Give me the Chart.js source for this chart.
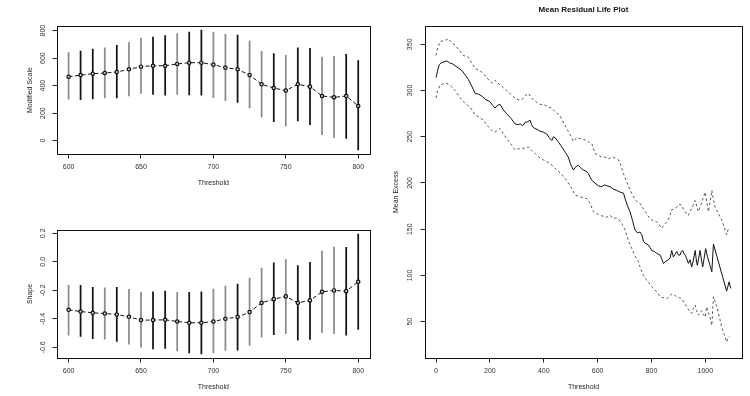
<!DOCTYPE html>
<html>
<head>
<meta charset="utf-8">
<script src="https://cdn.jsdelivr.net/npm/chart.js@4.4.1/dist/chart.umd.min.js"></script>
<style>
  body { margin: 0; background: #fff; width: 750px; height: 396px; position: relative; overflow: hidden; }
  canvas { position: absolute; }
</style>
</head>
<body>
<canvas id="chart-scale" width="375" height="198" style="left:0;top:0"></canvas>
<canvas id="chart-shape" width="375" height="198" style="left:0;top:198px"></canvas>
<canvas id="chart-mrl" width="375" height="396" style="left:375px;top:0"></canvas>
<script>
// threshold grid used by both left panels
const thresholds = [600, 608.3, 616.7, 625, 633.3, 641.7, 650, 658.3, 666.7, 675, 683.3, 691.7, 700,
    708.3, 716.7, 725, 733.3, 741.7, 750, 758.3, 766.7, 775, 783.3, 791.7, 800];
const thresholdTicks = [600, 650, 700, 750, 800];

// modified scale: estimate + interval
const scaleEst = [465, 477, 487, 492, 499, 519, 538, 545, 545, 558, 567, 567, 553, 531, 519, 477, 410, 383, 364, 410, 393, 325, 315, 325, 252];
const scaleHi = [640, 652, 667, 676, 693, 713, 747, 754, 764, 778, 790, 805, 790, 773, 768, 725, 650, 633, 621, 676, 672, 608, 613, 628, 582];
const scaleLo = [301, 298, 303, 310, 310, 325, 344, 337, 330, 337, 332, 330, 313, 291, 279, 238, 170, 138, 107, 143, 116, 44, 22, 17, -68];
const scaleTicks = [0, 200, 400, 600, 800];

// shape: estimate + interval
const shapeEst = [-0.337, -0.349, -0.358, -0.363, -0.370, -0.386, -0.409, -0.409, -0.407, -0.419, -0.428, -0.428, -0.419,
    -0.400, -0.388, -0.353, -0.288, -0.262, -0.243, -0.288, -0.271, -0.211, -0.201, -0.206, -0.140];
const shapeHi = [-0.166, -0.166, -0.180, -0.182, -0.180, -0.194, -0.215, -0.211, -0.206, -0.215, -0.215, -0.211, -0.192,
    -0.171, -0.157, -0.115, -0.044, -0.007, 0.016, -0.026, 0.000, 0.077, 0.103, 0.101, 0.194];
const shapeLo = [-0.515, -0.524, -0.540, -0.543, -0.559, -0.578, -0.599, -0.611, -0.608, -0.625, -0.639, -0.646, -0.639,
    -0.622, -0.620, -0.587, -0.529, -0.512, -0.505, -0.550, -0.545, -0.498, -0.505, -0.515, -0.475];
const shapeTicks = [-0.6, -0.4, -0.2, 0.0, 0.2];

// mean residual life: [threshold, mean excess]
const mrlMean = [[0,314],[6,322],[12,328],[20,330],[30,331],[40,332],[50,330],[60,329],[70,327],[85,324],[98,321],[110,316],
    [120,312],[132,305],[145,297],[158,296],[170,294],[185,290],[200,288],[210,284],[219,281],[228,284],[238,285],[250,279],
    [262,275],[278,270],[293,264],[305,263],[312,264],[322,262],[332,266],[340,266],[349,268],[355,263],[361,260],[375,258],
    [386,256],[398,255],[411,253],[420,249],[430,246],[436,250],[442,249],[455,244],[467,239],[480,233],[491,228],[500,220],
    [510,214],[520,218],[529,219],[538,216],[547,214],[556,213],[566,210],[578,203],[590,200],[602,197],[615,196],[625,198],
    [634,197],[646,196],[660,193],[671,192],[684,190],[696,189],[702,183],[710,176],[720,169],[730,159],[739,149],[748,146],
    [757,147],[764,144],[770,137],[776,135],[788,133],[795,130],[801,127],[810,126],[819,124],[832,122],[838,118],[844,113],
    [852,115],[863,117],[869,119],[875,127],[881,120],[888,123],[894,126],[900,122],[906,122],[911,126],[916,127],[920,124],
    [925,122],[931,118],[937,113],[943,117],[949,109],[955,116],[962,127],[966,118],[970,111],[975,118],[980,127],[985,118],
    [990,109],[995,118],[1001,129],[1008,120],[1017,111],[1024,104],[1030,134],[1079,83],[1088,93],[1094,86]];
const mrlUpper = [[0,338],[6,346],[15,353],[28,354],[40,355],[46,356],[58,352],[71,349],[85,344],[101,338],[120,336],[132,330],
    [145,324],[158,322],[170,320],[185,315],[200,310],[210,308],[219,311],[238,306],[250,303],[262,300],[278,296],[293,292],
    [305,290],[318,290],[330,294],[343,297],[352,293],[361,290],[375,287],[386,285],[398,285],[411,283],[420,282],[430,281],
    [442,277],[460,273],[472,266],[485,259],[498,252],[510,245],[522,249],[535,248],[547,247],[559,246],[570,244],[578,243],
    [590,232],[602,230],[615,228],[627,228],[640,226],[652,228],[664,227],[677,225],[684,221],[696,210],[708,201],[720,193],
    [733,185],[745,180],[757,178],[770,172],[782,167],[792,162],[801,160],[810,159],[819,158],[828,155],[838,151],[847,155],
    [857,158],[866,163],[875,171],[884,172],[894,174],[903,177],[912,176],[918,172],[925,169],[931,166],[937,165],[943,169],
    [949,172],[955,176],[962,181],[968,175],[974,169],[980,174],[986,178],[992,184],[999,190],[1005,180],[1011,169],[1018,180],
    [1024,192],[1030,182],[1036,174],[1048,167],[1061,160],[1070,152],[1079,144],[1085,150],[1092,151]];
const mrlLower = [[0,292],[6,300],[15,306],[25,307],[33,308],[45,307],[58,304],[71,300],[85,294],[101,288],[113,285],[126,282],
    [136,278],[145,274],[160,271],[176,268],[188,263],[200,259],[210,256],[219,255],[228,257],[238,259],[250,253],[262,248],
    [278,242],[293,236],[305,237],[318,237],[330,238],[343,239],[355,235],[368,232],[386,227],[398,225],[423,221],[435,218],
    [448,214],[460,211],[473,207],[486,202],[498,197],[508,192],[516,187],[525,186],[535,185],[548,184],[560,183],[572,178],
    [584,169],[596,167],[609,165],[621,164],[634,163],[646,165],[658,162],[671,162],[683,159],[692,155],[702,149],[714,138],
    [727,129],[739,121],[751,115],[760,107],[770,100],[779,96],[788,93],[798,89],[807,86],[820,82],[832,77],[844,76],
    [857,75],[866,77],[875,80],[884,79],[894,77],[903,76],[912,75],[922,70],[931,66],[940,62],[949,59],[955,64],[962,68],
    [968,62],[974,57],[980,60],[986,62],[992,58],[999,55],[1005,66],[1011,60],[1017,55],[1024,46],[1030,77],[1036,72],
    [1042,66],[1052,55],[1061,44],[1070,36],[1079,28],[1084,33],[1089,34]];
const mrlXTicks = [0, 200, 400, 600, 800, 1000];
const mrlYTicks = [50, 100, 150, 200, 250, 300, 350];

// antialias look of the R error bars (grey / black alternation)
const barShade = ['g','b','b','g','b','g','g','b','b','g','b','b','g','g','b','g','g','b','g','b','b','g','g','b','b']
    .map(s => s === 'g' ? '#8c8c8c' : '#151515');

Chart.defaults.font.family = '"Liberation Sans", Arial, Helvetica, sans-serif';
Chart.defaults.font.size = 7;
Chart.defaults.color = '#333';
Chart.defaults.animation = false;

// R style box round the plot region
const frameBox = {
    id: 'frameBox',
    afterDraw(chart) {
        const a = chart.chartArea, ctx = chart.ctx;
        ctx.save();
        ctx.strokeStyle = '#111';
        ctx.lineWidth = 1;
        ctx.strokeRect(Math.round(a.left) + 0.5, Math.round(a.top) + 0.5, Math.round(a.right - a.left), Math.round(a.bottom - a.top));
        ctx.restore();
    }
};

// y tick labels parallel to the axis, like R's las = 0
const rotY = {
    id: 'rotY',
    afterDraw(chart, args, opts) {
        const s = chart.scales.y, ctx = chart.ctx;
        ctx.save();
        ctx.font = '7px "Liberation Sans", Arial, sans-serif';
        ctx.fillStyle = '#333';
        ctx.textAlign = 'center';
        ctx.textBaseline = 'middle';
        s.ticks.forEach(t => {
            ctx.save();
            ctx.translate(opts.x, s.getPixelForValue(t.value));
            ctx.rotate(-Math.PI / 2);
            ctx.fillText(t.label, 0, 0);
            ctx.restore();
        });
        ctx.restore();
    }
};

function fixTicks(list) {
    return scale => { scale.ticks = list.map(v => ({ value: v })); };
}

function xAxis(min, max, ticks, height, titlePad) {
    return {
        type: 'linear', min, max, offset: false,
        afterBuildTicks: fixTicks(ticks),
        afterFit: s => { s.height = height; },
        ticks: { autoSkip: false, maxRotation: 0, padding: 4, callback: v => String(v) },
        grid: { drawOnChartArea: false, offset: false, tickLength: 4.5, tickColor: '#222', tickWidth: 1 },
        border: { display: false },
        title: { display: true, text: 'Threshold', color: '#222', font: { size: 7 }, padding: { top: 0, bottom: titlePad } }
    };
}

function yAxis(min, max, ticks, width, label, titlePad, fmt) {
    return {
        min, max,
        afterBuildTicks: fixTicks(ticks),
        afterFit: s => { s.width = width; },
        ticks: { display: false, callback: fmt },
        grid: { drawOnChartArea: false, tickLength: 4.5, tickColor: '#222', tickWidth: 1 },
        border: { display: false },
        title: { display: true, text: label, color: '#222', font: { size: 7 }, padding: { top: titlePad, bottom: titlePad } }
    };
}

function errorPanel(id, est, lo, hi, yRange, yTicks, label, fmt, topPad, xHeight, xTitlePad) {
    new Chart(document.getElementById(id), {
        type: 'bar',
        data: {
            datasets: [
                {
                    type: 'line',
                    data: thresholds.map((t, i) => ({ x: t, y: est[i] })),
                    borderColor: '#111', borderWidth: 1, borderDash: [4, 2.5],
                    pointRadius: 1.7, pointBorderWidth: 1.2, pointBorderColor: '#111', pointBackgroundColor: '#ccc',
                    order: 0
                },
                {
                    type: 'bar',
                    data: thresholds.map((t, i) => ({ x: t, y: [lo[i], hi[i]] })),
                    backgroundColor: barShade, borderWidth: 0, barThickness: 1.1,
                    order: 1
                }
            ]
        },
        options: {
            responsive: false,
            layout: { padding: { top: topPad, right: 1, left: 0, bottom: 0 } },
            plugins: { legend: { display: false }, tooltip: { enabled: false }, rotY: { x: 43 } },
            scales: {
                x: xAxis(592, 808, thresholdTicks, xHeight, xTitlePad),
                y: yAxis(yRange[0], yRange[1], yTicks, 57, label, 25.8, fmt)
            }
        },
        plugins: [frameBox, rotY]
    });
}

errorPanel('chart-scale', scaleEst, scaleLo, scaleHi, [-97, 834], scaleTicks, 'Modified Scale', v => String(v), 26, 44, 10.5);
errorPanel('chart-shape', shapeEst, shapeLo, shapeHi, [-0.675, 0.223], shapeTicks, 'Shape', v => v.toFixed(1), 32, 38, 5.1);

const toPts = arr => arr.map(p => ({ x: p[0], y: p[1] }));

new Chart(document.getElementById('chart-mrl'), {
    type: 'line',
    data: {
        datasets: [
            { data: toPts(mrlMean), borderColor: '#111', borderWidth: 1, pointRadius: 0, tension: 0 },
            { data: toPts(mrlUpper), borderColor: '#555', borderWidth: 1, borderDash: [2.5, 2.5], pointRadius: 0, tension: 0 },
            { data: toPts(mrlLower), borderColor: '#555', borderWidth: 1, borderDash: [2.5, 2.5], pointRadius: 0, tension: 0 }
        ]
    },
    options: {
        responsive: false,
        layout: { padding: { top: 0, right: 8, left: 0, bottom: 0 } },
        plugins: {
            legend: { display: false },
            tooltip: { enabled: false },
            title: {
                display: true, text: 'Mean Residual Life Plot', color: '#111', fullSize: false,
                font: { size: 8, weight: 'bold' }, padding: { top: 5.2, bottom: 11.2 }
            },
            rotY: { x: 35 }
        },
        scales: {
            x: xAxis(-41, 1136, mrlXTicks, 38, 5.1),
            y: yAxis(10.7, 369.8, mrlYTicks, 50, 'Mean Excess', 16.8, v => String(v))
        }
    },
    plugins: [frameBox, rotY]
});
</script>
</body>
</html>
